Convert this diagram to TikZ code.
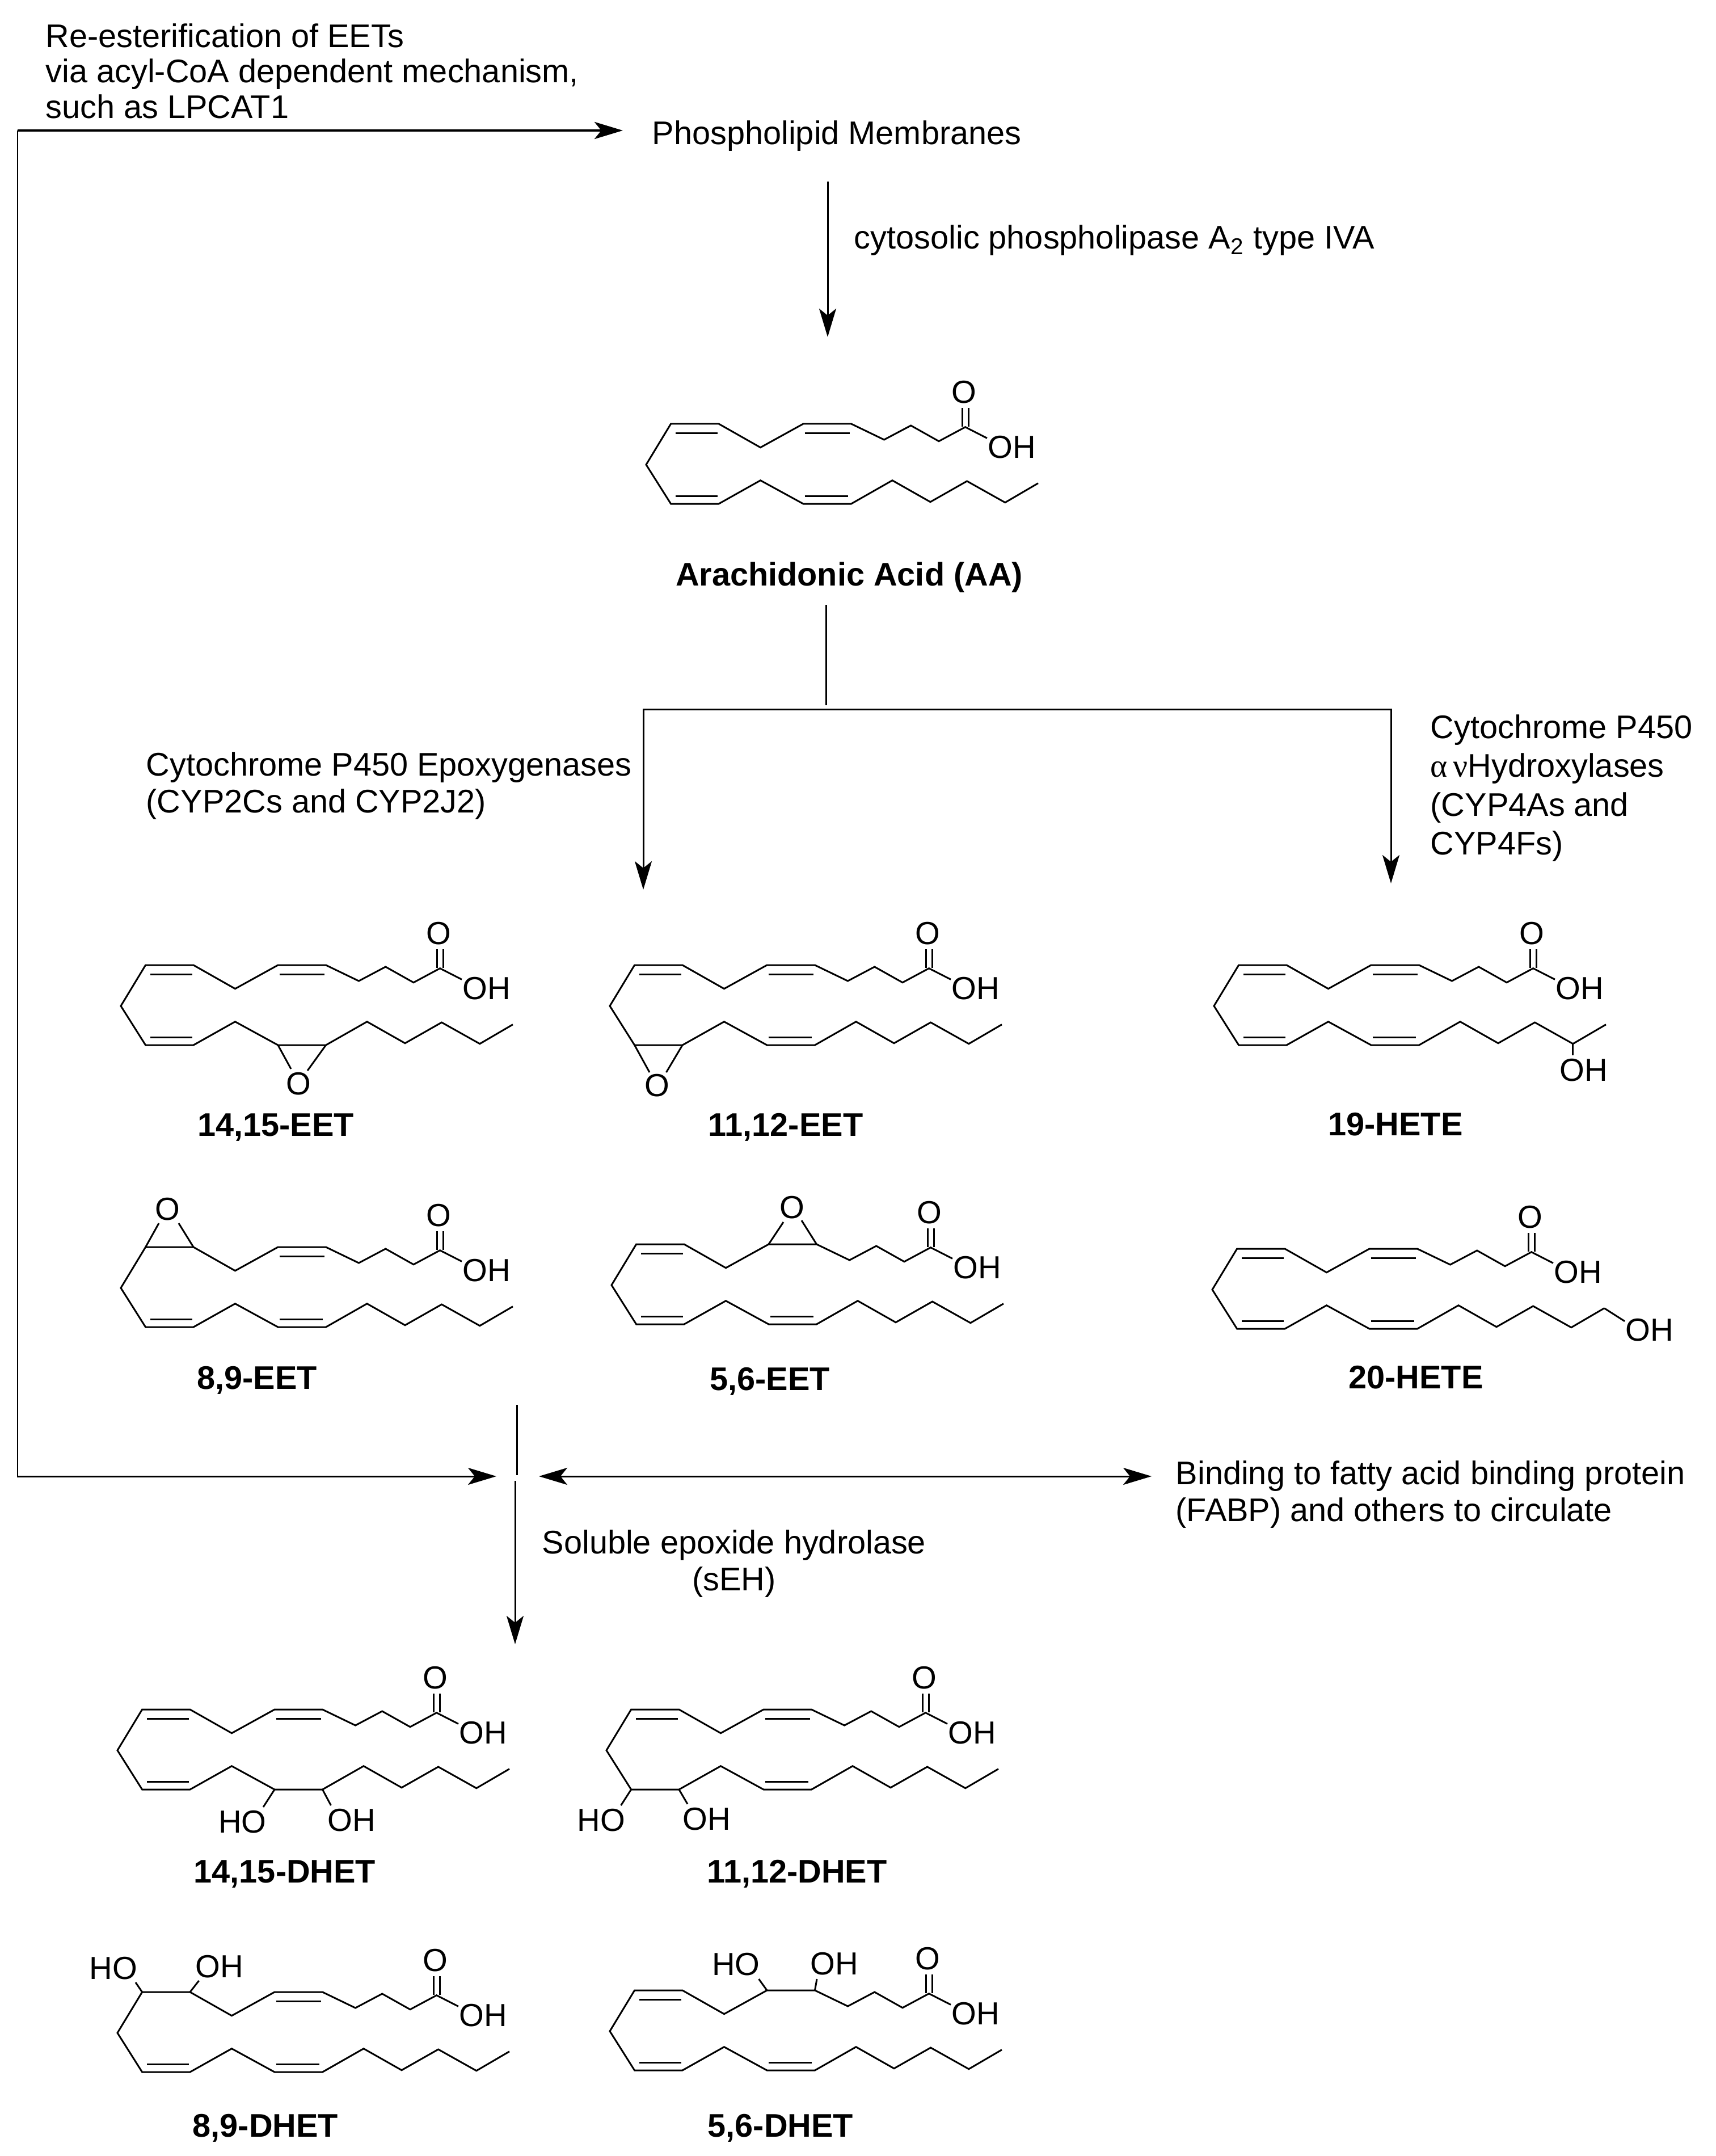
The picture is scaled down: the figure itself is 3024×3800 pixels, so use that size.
\documentclass[tikz,border=0pt]{standalone}
\usepackage{fontspec}
\setmainfont{Liberation Sans}
\newfontfamily\greekfont{Liberation Serif}
\usetikzlibrary{arrows.meta,positioning}

% 20-carbon chain, drawn around its left vertex
\newcommand{\Skeleton}{
    \coordinate (a1) at (43.6,-72);  \coordinate (a2) at (128,-72);
    \coordinate (b1) at (277,-72);   \coordinate (b2) at (361.5,-72);
    \coordinate (c1) at (43.6,69);   \coordinate (c2) at (128,69);
    \coordinate (d1) at (277,69);    \coordinate (d2) at (361.5,69);
    \draw[bond] (601,-46.7) -- (562.6,-66.3) -- (516,-41.3) -- (466.7,-69) -- (419.5,-44)
        -- (b2) -- (b1) -- (201.5,-30.3) -- (a2) -- (a1) -- (0,0) -- (c1) -- (c2)
        -- (201.5,27.7) -- (d1) -- (d2) -- (434,27.7) -- (501,65.7) -- (565.6,29)
        -- (632.8,66.7) -- (691,32.7);
    \draw[bond] (557.2,-67) -- (557.2,-100);
    \draw[bond] (568.2,-67) -- (568.2,-100);
    \node[atom] (acidO) at (560.5,-128) {O};
    \node[atom] (acidOH) at (644.6,-31) {OH};
}
% inner lines of the cis double bonds
\newcommand{\Inner}[1]{
    \coordinate (a3) at (52.3,-55.3); \coordinate (a4) at (126,-55.3);
    \coordinate (b3) at (279.5,-55.3); \coordinate (b4) at (359,-55.3);
    \coordinate (c3) at (52.3,55.3);  \coordinate (c4) at (126,55.3);
    \coordinate (d3) at (279.5,55.3); \coordinate (d4) at (356,55.3);
    \foreach \s in {#1} {
        \draw[bond] (\s3) -- (\s4);
    }
}
\newcommand{\Epoxide}[4]{
    \draw[bond] (#11) -- (#2);
    \draw[bond] (#12) -- (#3);
    \node[atom] (ringO) at (#4) {O};
}
\newcommand{\Diol}[5]{
    \draw[bond] (#11) -- (#2);
    \draw[bond] (#12) -- (#3);
    \node[atom] (diolHO) at (#4) {HO};
    \node[atom] (diolOH) at (#5) {OH};
}

\begin{document}
\begin{tikzpicture}[
    x=0.01cm, y=-0.01cm,
    bond/.style={line width=0.85pt},
    atom/.style={inner sep=0pt, font=\fontsize{16}{18}\selectfont},
    enzyme/.style={inner sep=0pt, anchor=west, align=left, font=\fontsize{16.4}{18.6}\selectfont},
    title/.style={inner sep=0pt, font=\fontsize{16.4}{18}\selectfont\bfseries},
    path/.style={line width=0.85pt},
    flow/.style={path, -{Stealth[length=0.5cm, width=0.3cm, inset=0.12cm]}},
    both/.style={path, {Stealth[length=0.5cm, width=0.3cm, inset=0.12cm]}-{Stealth[length=0.5cm, width=0.3cm, inset=0.12cm]}}
]
\useasboundingbox (0,0) rectangle (3024,3800);

% labels along the pathway
\node[enzyme, font=\fontsize{16.4}{17.8}\selectfont] (recycle) at (80,125) {Re-esterification of EETs\\via acyl-CoA dependent mechanism,\\such as LPCAT1};
\node[enzyme] (membrane) at (1149,240) {Phospholipid Membranes};
\node[enzyme] (pla) at (1505,424) {cytosolic phospholipase A\textsubscript{2} type IVA};
\node[enzyme] (epoxygenase) at (257,1385) {Cytochrome P450 Epoxygenases\\(CYP2Cs and CYP2J2)};
\node[enzyme, font=\fontsize{16.4}{19.4}\selectfont] (hydroxylase) at (2521,1389) {Cytochrome P450\\{\greekfont α\,ν}Hydroxylases\\(CYP4As and\\CYP4Fs)};
\node[enzyme, align=center] (seh) at (955,2756) {Soluble epoxide hydrolase\\(sEH)};
\node[enzyme] (fabp) at (2072,2634) {Binding to fatty acid binding protein\\(FABP) and others to circulate};

% compound names
\node[title] (aa) at (1497,1018) {Arachidonic Acid (AA)};
\node[title] (eet1415) at (486,1987) {14,15-EET};
\node[title] (eet1112) at (1385,1987) {11,12-EET};
\node[title] (hete19) at (2460,1982) {19-HETE};
\node[title] (eet89) at (453,2433) {8,9-EET};
\node[title] (eet56) at (1357,2435) {5,6-EET};
\node[title] (hete20) at (2496,2428) {20-HETE};
\node[title] (dhet1415) at (502,3303) {14,15-DHET};
\node[title] (dhet1112) at (1405,3303) {11,12-DHET};
\node[title] (dhet89) at (468,3751) {8,9-DHET};
\node[title] (dhet56) at (1376,3751) {5,6-DHET};

% structures
\begin{scope}[shift={(1139,819)}, name prefix=aa-]
    \Skeleton \Inner{a,b,c,d}
\end{scope}
\begin{scope}[shift={(213,1773)}, name prefix=eet1415-]
    \Skeleton \Inner{a,b,c}
    \Epoxide{d}{300,111}{329,114}{313,137}
\end{scope}
\begin{scope}[shift={(1075,1773)}, name prefix=eet1112-]
    \Skeleton \Inner{a,b,d}
    \Epoxide{c}{70,117}{99.5,117}{83,140}
\end{scope}
\begin{scope}[shift={(2140,1773)}, name prefix=hete19-]
    \Skeleton \Inner{a,b,c,d}
    \draw[bond] (632.8,66.7) -- (632.8,87);
    \node[atom] (tailOH) at (652,113) {OH};
\end{scope}
\begin{scope}[shift={(213,2270)}, name prefix=eet89-]
    \Skeleton \Inner{b,c,d}
    \Epoxide{a}{67,-114}{102,-114}{82.6,-139}
\end{scope}
\begin{scope}[shift={(1078,2265)}, name prefix=eet56-]
    \Skeleton \Inner{a,c,d}
    \Epoxide{b}{303,-111}{335,-114}{318.5,-137}
\end{scope}
\begin{scope}[shift={(2137,2273)}, name prefix=hete20-]
    \Skeleton \Inner{a,b,c,d}
    \draw[bond] (691,32.7) -- (727,55.7);
    \node[atom] (tailOH) at (770.7,71) {OH};
\end{scope}
\begin{scope}[shift={(207,3085)}, name prefix=dhet1415-]
    \Skeleton \Inner{a,b,c}
    \Diol{d}{257,100}{376.4,97}{220.5,126}{413,123}
\end{scope}
\begin{scope}[shift={(1069,3085)}, name prefix=dhet1112-]
    \Skeleton \Inner{a,b,d}
    \Diol{c}{25.6,97}{143,94.7}{-9,123}{177,120.7}
\end{scope}
\begin{scope}[shift={(207,3583)}, name prefix=dhet89-]
    \Skeleton \Inner{b,c,d}
    \Diol{a}{32,-89}{143.6,-92}{-7,-114}{180,-117}
\end{scope}
\begin{scope}[shift={(1075,3580)}, name prefix=dhet56-]
    \Skeleton \Inner{a,c,d}
    \Diol{b}{262.6,-92}{365,-92}{222.5,-117.7}{396,-119}
\end{scope}

% connectors
\coordinate (cornerTop) at (31,230);
\coordinate (cornerLow) at (31,2602);
\coordinate (toMembrane) at (1098,230);
\coordinate (plaTop) at (1459,320);
\coordinate (plaEnd) at (1459,594);
\coordinate (aaStem) at (1456,1066);
\coordinate (aaFork) at (1456,1243);
\coordinate (forkLeft) at (1134,1250);
\coordinate (forkRight) at (2452,1250);
\coordinate (leftEnd) at (1134,1568);
\coordinate (rightEnd) at (2452,1557);
\coordinate (sehTop) at (911,2476);
\coordinate (sehBreak) at (911,2600);
\coordinate (sehStart) at (908,2610);
\coordinate (sehEnd) at (908,2898);
\coordinate (crossLeft) at (875,2602);
\coordinate (bothLeft) at (950,2602);
\coordinate (bothRight) at (2030,2602);

\draw[flow, line width=1.3pt] (cornerTop) -- (toMembrane);
\draw[flow] (cornerTop) -- (cornerLow) -- (crossLeft);
\draw[flow] (plaTop) -- (plaEnd);
\draw[path] (aaStem) -- (aaFork);
\draw[flow] (forkRight) -- (forkLeft) -- (leftEnd);
\draw[flow] (forkLeft) -- (forkRight) -- (rightEnd);
\draw[path] (sehTop) -- (sehBreak);
\draw[flow] (sehStart) -- (sehEnd);
\draw[both] (bothLeft) -- (bothRight);

\end{tikzpicture}
\end{document}
